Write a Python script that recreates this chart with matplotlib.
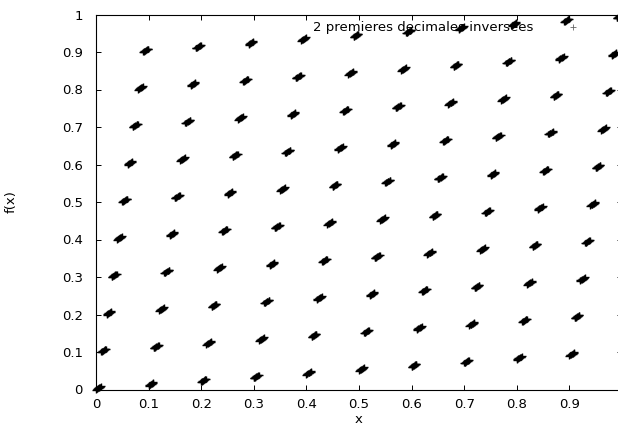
import numpy as np
import matplotlib
matplotlib.use("Agg")
import matplotlib.pyplot as plt
from matplotlib.path import Path

# start of each little cluster of points (x = 0.ab..., f(x) = 0.ba...)
cluster_x = [
    0.00, 0.01, 0.02, 0.03, 0.04, 0.05, 0.06, 0.07, 0.08, 0.09,
    0.10, 0.11, 0.12, 0.13, 0.14, 0.15, 0.16, 0.17, 0.18, 0.19,
    0.20, 0.21, 0.22, 0.23, 0.24, 0.25, 0.26, 0.27, 0.28, 0.29,
    0.30, 0.31, 0.32, 0.33, 0.34, 0.35, 0.36, 0.37, 0.38, 0.39,
    0.40, 0.41, 0.42, 0.43, 0.44, 0.45, 0.46, 0.47, 0.48, 0.49,
    0.50, 0.51, 0.52, 0.53, 0.54, 0.55, 0.56, 0.57, 0.58, 0.59,
    0.60, 0.61, 0.62, 0.63, 0.64, 0.65, 0.66, 0.67, 0.68, 0.69,
    0.70, 0.71, 0.72, 0.73, 0.74, 0.75, 0.76, 0.77, 0.78, 0.79,
    0.80, 0.81, 0.82, 0.83, 0.84, 0.85, 0.86, 0.87, 0.88, 0.89,
    0.90, 0.91, 0.92, 0.93, 0.94, 0.95, 0.96, 0.97, 0.98, 0.99,
]
cluster_y = [
    0.00, 0.10, 0.20, 0.30, 0.40, 0.50, 0.60, 0.70, 0.80, 0.90,
    0.01, 0.11, 0.21, 0.31, 0.41, 0.51, 0.61, 0.71, 0.81, 0.91,
    0.02, 0.12, 0.22, 0.32, 0.42, 0.52, 0.62, 0.72, 0.82, 0.92,
    0.03, 0.13, 0.23, 0.33, 0.43, 0.53, 0.63, 0.73, 0.83, 0.93,
    0.04, 0.14, 0.24, 0.34, 0.44, 0.54, 0.64, 0.74, 0.84, 0.94,
    0.05, 0.15, 0.25, 0.35, 0.45, 0.55, 0.65, 0.75, 0.85, 0.95,
    0.06, 0.16, 0.26, 0.36, 0.46, 0.56, 0.66, 0.76, 0.86, 0.96,
    0.07, 0.17, 0.27, 0.37, 0.47, 0.57, 0.67, 0.77, 0.87, 0.97,
    0.08, 0.18, 0.28, 0.38, 0.48, 0.58, 0.68, 0.78, 0.88, 0.98,
    0.09, 0.19, 0.29, 0.39, 0.49, 0.59, 0.69, 0.79, 0.89, 0.99,
]
# samples inside each cluster (step of the data file)
sub_steps = [0.000, 0.001, 0.002, 0.003, 0.004, 0.005, 0.006, 0.007, 0.008, 0.009]

x_ticks = [0, 0.1, 0.2, 0.3, 0.4, 0.5, 0.6, 0.7, 0.8, 0.9]
x_labels = ["0", "0.1", "0.2", "0.3", "0.4", "0.5", "0.6", "0.7", "0.8", "0.9"]
y_ticks = [0, 0.1, 0.2, 0.3, 0.4, 0.5, 0.6, 0.7, 0.8, 0.9, 1]
y_labels = ["0", "0.1", "0.2", "0.3", "0.4", "0.5", "0.6", "0.7", "0.8", "0.9", "1"]
legend_label = "2 premieres decimales inversees"

xs = np.add.outer(cluster_x, sub_steps).ravel()
ys = np.add.outer(cluster_y, sub_steps).ravel()

plt.rcParams['font.family'] = ['DejaVu Sans']
fs = 9.5

# gnuplot style "+" looks a bit wider than tall in the picture
plus = Path([(-1, 0), (1, 0), (0, -0.7), (0, 0.7)],
            [Path.MOVETO, Path.LINETO, Path.MOVETO, Path.LINETO])

W, H = 618, 430
fig = plt.figure(figsize=(W / 100, H / 100), dpi=100)
ax = fig.add_axes([96 / W, (H - 389.5) / H, 525.5 / W, 375 / H])

ax.plot(xs, ys, linestyle='none', marker=plus, markersize=5.8,
        markeredgewidth=1.0, color='black', clip_on=False, label=legend_label)

ax.set_xlim(0, 0.999)
ax.set_ylim(0, 1)
ax.set_xticks(x_ticks)
ax.set_xticklabels(x_labels)
ax.set_yticks(y_ticks)
ax.set_yticklabels(y_labels)
ax.tick_params(axis='both', direction='in', length=3.6, width=0.7,
               labelsize=fs, top=True, right=True, colors='black')
ax.tick_params(axis='x', pad=6)
ax.tick_params(axis='y', pad=9.4)
for s in ax.spines.values():
    s.set_linewidth(0.8)
    s.set_color('black')

ax.set_xlabel("x", fontsize=fs)
ax.set_ylabel("f(x)", fontsize=fs)
ax.xaxis.set_label_coords(0.5, (389.5 - 413) / 375)
ax.yaxis.set_label_coords((18 - 96) / 525.5, 0.5)

# key in the top right corner, text before the sample like gnuplot
fpx = fs * 100 / 72
leg = ax.legend(loc='center right', markerfirst=False, frameon=False,
                fontsize=fs, numpoints=1, handlelength=1.0,
                handletextpad=(40 - fpx / 2) / fpx, borderpad=0,
                borderaxespad=0,
                bbox_to_anchor=((573 + fpx / 2) / W, 1 - 28 / H),
                bbox_transform=fig.transFigure)
for h in leg.legend_handles:
    h.set_color('#666666')
    h.set_marker('+')
    h.set_markersize(4.5)
    h.set_markeredgewidth(0.6)

fig.savefig("out.png", dpi=100)
